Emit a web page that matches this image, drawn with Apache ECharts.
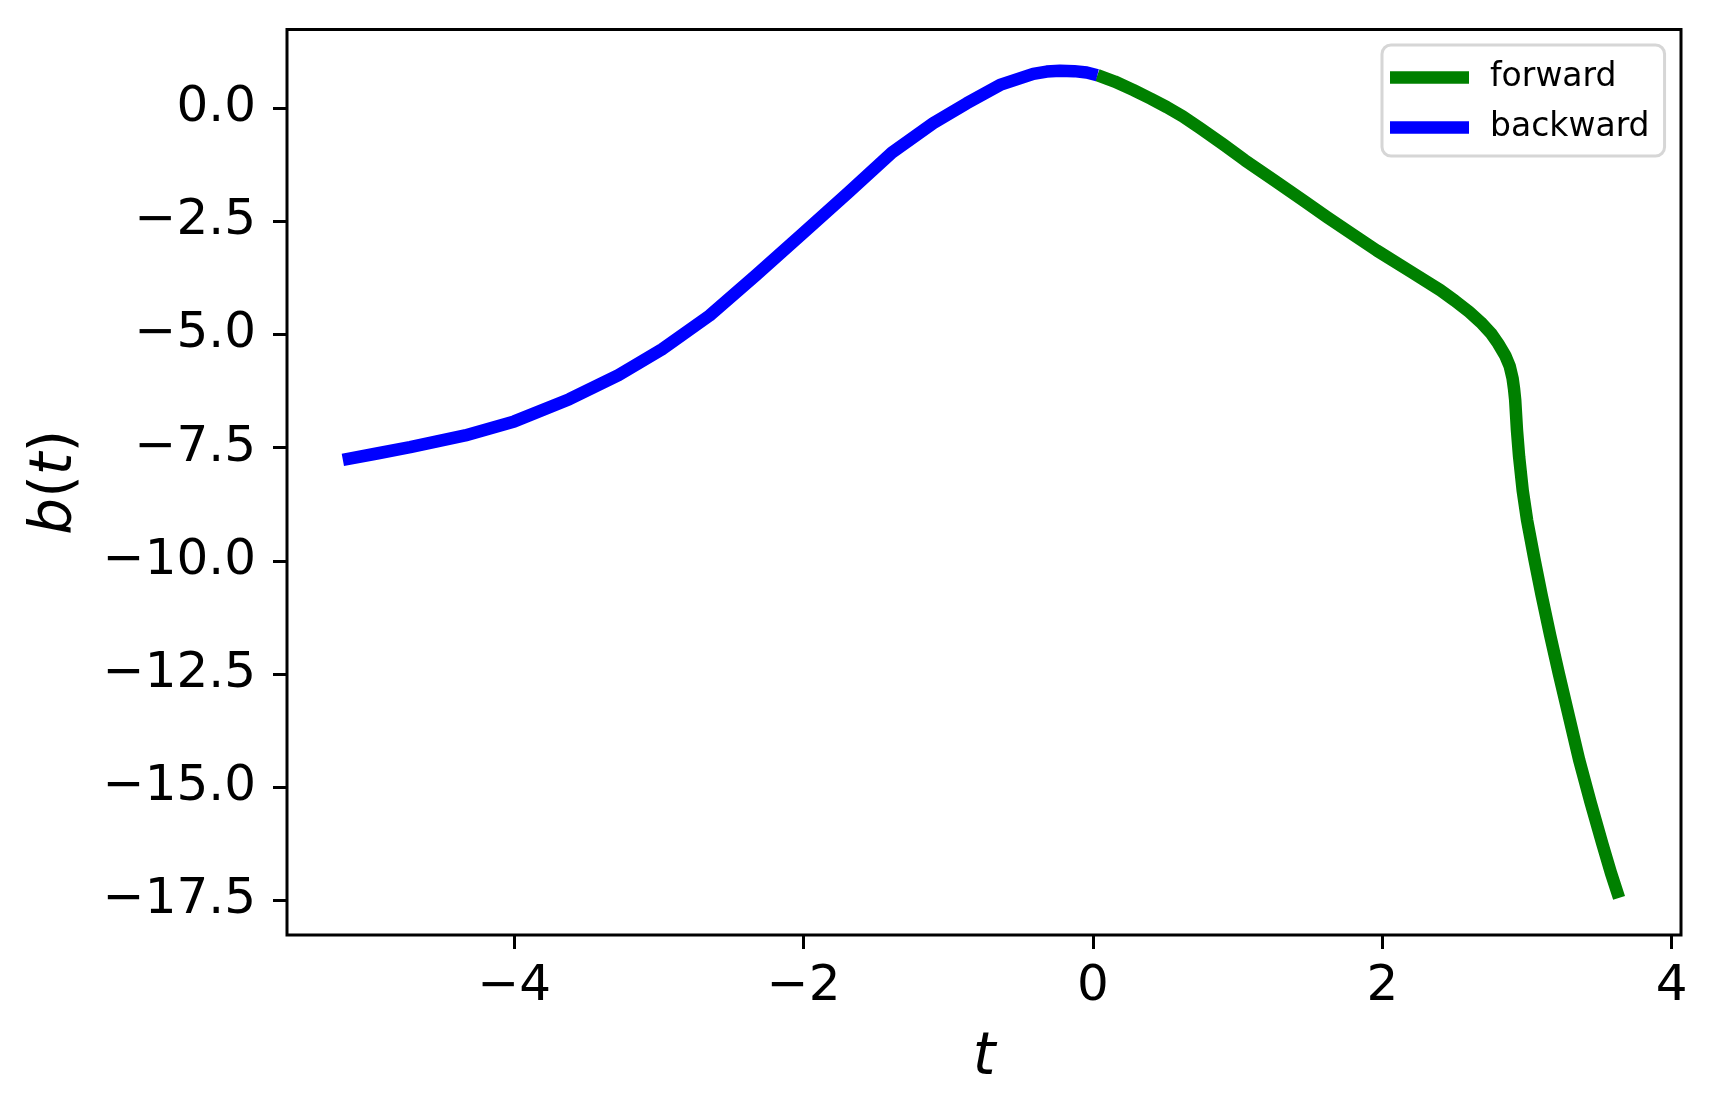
<!DOCTYPE html>
<html>
<head>
<meta charset="utf-8">
<script src="https://cdn.jsdelivr.net/npm/echarts@6/dist/echarts.min.js"></script>
<style>
html,body{margin:0;padding:0;background:#fff;}
#chart{width:1717px;height:1116px;}
</style>
</head>
<body>
<div id="chart"></div>
<script>
// forward solution b(t), t >= 0
const forwardT = [0.03, 0.15, 0.28, 0.40, 0.51, 0.62, 0.74, 0.90, 1.05, 1.25, 1.45, 1.62, 1.80, 1.96, 2.20, 2.40, 2.50, 2.60, 2.68, 2.75, 2.80, 2.85, 2.88, 2.90, 2.91, 2.918, 2.93, 2.945, 2.97, 3.00, 3.05, 3.10, 3.16, 3.22, 3.29, 3.36, 3.44, 3.52, 3.58, 3.636];
const forwardB = [0.73, 0.59, 0.40, 0.21, 0.025, -0.18, -0.44, -0.80, -1.15, -1.59, -2.03, -2.41, -2.80, -3.14, -3.62, -4.02, -4.25, -4.50, -4.73, -4.97, -5.20, -5.47, -5.70, -5.97, -6.20, -6.45, -7.10, -7.70, -8.45, -9.10, -9.95, -10.75, -11.65, -12.50, -13.45, -14.40, -15.35, -16.25, -16.90, -17.45];
// backward solution b(t), t <= 0
const backwardT = [-5.185, -4.95, -4.72, -4.34, -4.00, -3.62, -3.28, -2.98, -2.65, -2.33, -2.00, -1.69, -1.39, -1.104, -0.873, -0.643, -0.413, -0.32, -0.228, -0.13, -0.044, 0.03];
const backwardB = [-7.77, -7.63, -7.49, -7.23, -6.92, -6.43, -5.90, -5.33, -4.58, -3.69, -2.75, -1.86, -0.98, -0.33, 0.11, 0.515, 0.76, 0.81, 0.83, 0.82, 0.79, 0.73];
// tick labels
const xTicks = [-4, -2, 0, 2, 4];
const yTicks = [0, -2.5, -5, -7.5, -10, -12.5, -15, -17.5];

const zip = (a, b) => a.map((v, i) => [v, b[i]]);
const minus = s => s.replace('-', '\u2212');
const FONT = 'DejaVu Sans';

const chart = echarts.init(document.getElementById('chart'), null, {renderer: 'canvas'});
chart.setOption({
  animation: false,
  backgroundColor: '#ffffff',
  grid: {
    left: 287, right: 36, top: 29.5, bottom: 181,
    show: true, borderColor: '#000', borderWidth: 3, backgroundColor: 'transparent'
  },
  legend: {
    orient: 'vertical',
    left: 1382, top: 45,
    padding: [16, 15, 12, 8],
    itemGap: 17,
    itemWidth: 79, itemHeight: 12.5,
    icon: 'rect',
    backgroundColor: '#fff',
    borderColor: '#d6d6d6', borderWidth: 3, borderRadius: 9,
    textStyle: {fontFamily: FONT, fontSize: 33, color: '#000', padding: [0, 0, 0, 16]},
    data: ['forward', 'backward']
  },
  xAxis: {
    type: 'value',
    min: -5.571, max: 4.064,
    name: 't', nameLocation: 'middle', nameGap: 95,
    nameTextStyle: {fontFamily: FONT, fontStyle: 'italic', fontSize: 58, color: '#000'},
    axisLine: {show: false, onZero: false},
    axisTick: {show: true, inside: false, length: 14, lineStyle: {color: '#000', width: 3}, customValues: xTicks},
    axisLabel: {show: true, margin: 27, fontFamily: FONT, fontSize: 50, color: '#000',
      customValues: xTicks, formatter: v => minus(String(v))},
    splitLine: {show: false}
  },
  yAxis: {
    type: 'value',
    min: -18.27, max: 1.74,
    name: '{i|b}{r|(}{i|t}{r|)}', nameLocation: 'middle', nameGap: 202, nameRotate: 90,
    nameTextStyle: {fontFamily: FONT, fontSize: 58, color: '#000',
      rich: {
        i: {fontFamily: FONT, fontStyle: 'italic', fontSize: 58, color: '#000'},
        r: {fontFamily: FONT, fontStyle: 'normal', fontSize: 58, color: '#000'}
      }},
    axisLine: {show: false, onZero: false},
    axisTick: {show: true, inside: false, length: 14, lineStyle: {color: '#000', width: 3}, customValues: yTicks},
    axisLabel: {show: true, margin: 31, fontFamily: FONT, fontSize: 50, color: '#000',
      customValues: yTicks, formatter: v => minus(Number(v).toFixed(1))},
    splitLine: {show: false}
  },
  series: [
    {
      name: 'forward', type: 'line', color: '#008000',
      data: zip(forwardT, forwardB),
      showSymbol: false, symbol: 'none', smooth: false,
      lineStyle: {width: 12.5, color: '#008000', cap: 'butt', join: 'round'}
    },
    {
      name: 'backward', type: 'line', color: '#0000ff',
      data: zip(backwardT, backwardB),
      showSymbol: false, symbol: 'none', smooth: false,
      lineStyle: {width: 12.5, color: '#0000ff', cap: 'butt', join: 'round'}
    }
  ]
});
</script>
</body>
</html>
